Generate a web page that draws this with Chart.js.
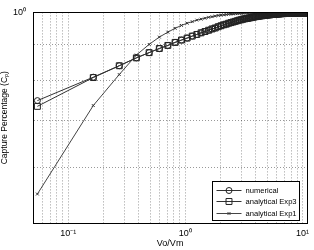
<!DOCTYPE html>
<html>
<head>
<meta charset="utf-8">
<script src="https://cdn.jsdelivr.net/npm/chart.js@4.4.3/dist/chart.umd.min.js"></script>
<style>
  html, body { margin: 0; padding: 0; background: #fff; }
  #c { display: block; }
</style>
</head>
<body>
<canvas id="c" width="314" height="250"></canvas>
<script>
// Vo/Vm sample points
const VRATIO = [
  0.0545, 0.1636, 0.2727, 0.3818, 0.4909, 0.6000, 0.7091, 0.8182, 0.9273, 1.0364,
  1.1455, 1.2545, 1.3636, 1.4727, 1.5818, 1.6909, 1.8000, 1.9091, 2.0182, 2.1273,
  2.2364, 2.3455, 2.4545, 2.5636, 2.6727, 2.7818, 2.8909, 3.0000, 3.1091, 3.2182,
  3.3273, 3.4364, 3.5455, 3.6545, 3.7636, 3.8727, 3.9818, 4.0909, 4.2000, 4.3091,
  4.4182, 4.5273, 4.6364, 4.7455, 4.8545, 4.9636, 5.0727, 5.1818, 5.2909, 5.4000,
  5.5091, 5.6182, 5.7273, 5.8364, 5.9455, 6.0545, 6.1636, 6.2727, 6.3818, 6.4909,
  6.6000, 6.7091, 6.8182, 6.9273, 7.0364, 7.1455, 7.2545, 7.3636, 7.4727, 7.5818,
  7.6909, 7.8000, 7.9091, 8.0182, 8.1273, 8.2364, 8.3455, 8.4545, 8.5636, 8.6727,
  8.7818, 8.8909, 9.0000, 9.1091, 9.2182, 9.3273, 9.4364, 9.5455, 9.6545, 9.7636,
  9.8727, 9.9818, 10.0909, 10.2000, 10.3091, 10.4182, 10.5273, 10.6364, 10.7455, 10.8545,
  10.9636
];

const NUMERICAL = [
  0.748, 0.808, 0.839, 0.861, 0.876, 0.888, 0.897, 0.906, 0.913, 0.919,
  0.925, 0.930, 0.935, 0.939, 0.943, 0.947, 0.950, 0.954, 0.957, 0.960,
  0.962, 0.965, 0.967, 0.969, 0.971, 0.973, 0.975, 0.976, 0.978, 0.979,
  0.980, 0.981, 0.982, 0.983, 0.984, 0.985, 0.986, 0.987, 0.987, 0.988,
  0.989, 0.989, 0.990, 0.990, 0.991, 0.991, 0.992, 0.992, 0.992, 0.993,
  0.993, 0.993, 0.994, 0.994, 0.994, 0.995, 0.995, 0.995, 0.995, 0.996,
  0.996, 0.996, 0.996, 0.996, 0.997, 0.997, 0.997, 0.997, 0.997, 0.997,
  0.997, 0.997, 0.997, 0.997, 0.997, 0.997, 0.997, 0.997, 0.997, 0.997,
  0.997, 0.998, 0.998, 0.998, 0.998, 0.998, 0.998, 0.998, 0.998, 0.998,
  0.998, 0.998, 0.998, 0.998, 0.998, 0.998, 0.998, 0.998, 0.998, 0.998,
  0.998
];

const EXP3 = [
  0.734, 0.807, 0.839, 0.861, 0.876, 0.888, 0.897, 0.906, 0.913, 0.919,
  0.925, 0.930, 0.935, 0.939, 0.943, 0.947, 0.950, 0.954, 0.957, 0.960,
  0.962, 0.965, 0.967, 0.969, 0.971, 0.973, 0.975, 0.976, 0.978, 0.979,
  0.980, 0.981, 0.982, 0.983, 0.984, 0.985, 0.986, 0.987, 0.987, 0.988,
  0.989, 0.989, 0.990, 0.990, 0.991, 0.991, 0.992, 0.992, 0.992, 0.993,
  0.993, 0.993, 0.994, 0.994, 0.994, 0.995, 0.995, 0.995, 0.995, 0.996,
  0.996, 0.996, 0.996, 0.996, 0.997, 0.997, 0.997, 0.997, 0.997, 0.997,
  0.997, 0.997, 0.997, 0.997, 0.997, 0.997, 0.997, 0.997, 0.997, 0.997,
  0.997, 0.998, 0.998, 0.998, 0.998, 0.998, 0.998, 0.998, 0.998, 0.998,
  0.998, 0.998, 0.998, 0.998, 0.998, 0.998, 0.998, 0.998, 0.998, 0.998,
  0.998
];

const EXP1 = [
  0.550, 0.736, 0.815, 0.869, 0.900, 0.922, 0.937, 0.949, 0.958, 0.965,
  0.970, 0.975, 0.978, 0.981, 0.984, 0.986, 0.988, 0.990, 0.991, 0.992,
  0.993, 0.994, 0.995, 0.995, 0.996, 0.996, 0.997, 0.997, 0.998, 0.998,
  0.998, 0.998, 0.998, 0.998, 0.998, 0.998, 0.999, 0.999, 0.999, 0.999,
  0.999, 0.999, 0.999, 0.999, 0.999, 0.999, 0.999, 0.999, 0.999, 0.999,
  0.999, 0.999, 0.999, 0.999, 0.999, 0.999, 0.999, 0.999, 0.999, 0.999,
  0.999, 0.999, 0.999, 0.999, 0.999, 0.999, 0.999, 0.999, 0.999, 0.999,
  0.999, 0.999, 0.999, 0.999, 0.999, 0.999, 0.999, 0.999, 0.999, 0.999,
  0.999, 0.999, 0.999, 0.999, 0.999, 0.999, 0.999, 0.999, 0.999, 0.999,
  0.999, 0.999, 0.999, 0.999, 0.999, 0.999, 0.999, 0.999, 0.999, 0.999,
  0.999
];

// grid / tick positions (log axes, minor grid on)
const X_TICKS = [0.05, 0.06, 0.07, 0.08, 0.09, 0.1, 0.2, 0.3, 0.4, 0.5, 0.6, 0.7, 0.8, 0.9,
  1, 2, 3, 4, 5, 6, 7, 8, 9, 10];
const Y_TICKS = [0.5, 0.6, 0.7, 0.8, 0.9, 1];
const DECADE_LABELS = { "-1": "10\u207B\u00B9", "0": "10\u2070", "1": "10\u00B9" };

const FONT = "'Liberation Sans', Arial, sans-serif";

function toPts(ys) {
  return ys.map((y, i) => ({ x: VRATIO[i], y }));
}

function decadeLabel(v) {
  const e = Math.log10(v);
  if (Math.abs(e - Math.round(e)) > 1e-9) return "";
  return DECADE_LABELS[String(Math.round(e))] || "";
}

const datasets = [
  {
    label: "numerical",
    data: toPts(NUMERICAL),
    borderColor: "#333",
    borderWidth: 1,
    pointStyle: "circle",
    pointRadius: 3,
    pointBorderColor: "#222",
    pointBackgroundColor: "rgba(0,0,0,0)",
    pointBorderWidth: 1,
  },
  {
    label: "analytical Exp3",
    data: toPts(EXP3),
    borderColor: "#333",
    borderWidth: 1,
    pointStyle: "rect",
    pointRadius: 4.2,
    pointBorderColor: "#222",
    pointBackgroundColor: "rgba(0,0,0,0)",
    pointBorderWidth: 1,
  },
  {
    label: "analytical Exp1",
    data: toPts(EXP1),
    borderColor: "#444",
    borderWidth: 1,
    pointStyle: "crossRot",
    pointRadius: 2,
    pointBorderColor: "#333",
    pointBorderWidth: 1,
  },
];

// matlab-like box around the axes
const boxPlugin = {
  id: "box",
  afterDatasetsDraw(chart) {
    const { ctx, chartArea: a } = chart;
    ctx.save();
    ctx.strokeStyle = "#000";
    ctx.lineWidth = 1;
    ctx.strokeRect(Math.round(a.left) + 0.5, Math.round(a.top) + 0.5,
      Math.round(a.right - a.left), Math.round(a.bottom - a.top));
    ctx.restore();
  },
};

// legend box in the lower right corner of the axes
const legendBox = {
  id: "legendBox",
  afterDraw(chart) {
    const { ctx, chartArea: a } = chart;
    const w = 87, h = 39;
    const x0 = Math.round(a.right - 8 - w) + 0.5;
    const y0 = Math.round(a.bottom - 3 - h) + 0.5;
    ctx.save();
    ctx.fillStyle = "#fff";
    ctx.fillRect(x0, y0, w, h);
    ctx.strokeStyle = "#000";
    ctx.lineWidth = 1;
    ctx.strokeRect(x0, y0, w, h);
    ctx.font = "7.6px " + FONT;
    ctx.textBaseline = "middle";
    chart.data.datasets.forEach((ds, i) => {
      const y = Math.round(y0 + 8 + i * 11.5) + 0.5;
      ctx.strokeStyle = ds.borderColor;
      ctx.beginPath();
      ctx.moveTo(x0 + 4, y);
      ctx.lineTo(x0 + 29, y);
      ctx.stroke();
      ctx.strokeStyle = ds.pointBorderColor;
      ctx.fillStyle = "rgba(0,0,0,0)";
      ctx.lineWidth = 1;
      Chart.helpers.drawPoint(ctx, {
        pointStyle: ds.pointStyle,
        radius: ds.pointRadius,
        rotation: 0,
        borderWidth: 1,
      }, x0 + 16.5, y);
      ctx.fillStyle = "#000";
      ctx.fillText(ds.label, x0 + 33, y);
    });
    ctx.restore();
  },
};

const gridColor = "rgba(0,0,0,0.4)";

new Chart(document.getElementById("c"), {
  type: "line",
  data: { datasets },
  options: {
    responsive: false,
    animation: false,
    layout: { padding: { top: 6, right: 6, left: 0, bottom: 0 } },
    plugins: { legend: { display: false }, tooltip: { enabled: false } },
    scales: {
      x: {
        type: "logarithmic",
        min: 0.05,
        max: 11,
        afterBuildTicks: (s) => { s.ticks = X_TICKS.map((v) => ({ value: v })); },
        afterFit: (s) => { s.height = 27; },
        ticks: {
          autoSkip: false,
          maxRotation: 0,
          padding: 5,
          color: "#000",
          font: { family: FONT, size: 9 },
          callback: (v) => decadeLabel(v),
        },
        grid: { color: gridColor, drawTicks: false },
        border: { color: "#000", dash: [1, 2] },
        title: {
          display: true,
          text: "Vo/Vm",
          color: "#000",
          font: { family: FONT, size: 9 },
          padding: { top: 0, bottom: 1 },
        },
      },
      y: {
        type: "logarithmic",
        min: 0.5,
        max: 1,
        afterBuildTicks: (s) => { s.ticks = Y_TICKS.map((v) => ({ value: v })); },
        afterFit: (s) => { s.width = 33; },
        ticks: {
          autoSkip: false,
          padding: 7,
          color: "#000",
          font: { family: FONT, size: 9 },
          callback: (v) => decadeLabel(v),
        },
        grid: { color: gridColor, drawTicks: false },
        border: { color: "#000", dash: [1, 2] },
        title: {
          display: true,
          text: "Capture Percentage (C\u209A)",
          color: "#000",
          font: { family: FONT, size: 8.5 },
          padding: { top: 0, bottom: 0 },
        },
      },
    },
  },
  plugins: [boxPlugin, legendBox],
});
</script>
</body>
</html>
